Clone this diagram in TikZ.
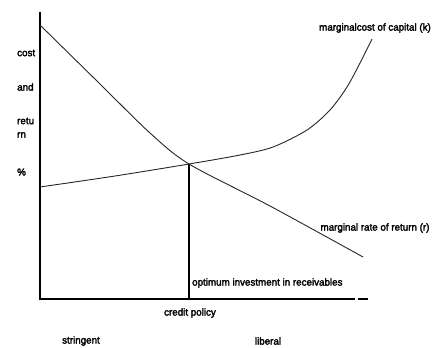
\documentclass[tikz,border=0pt]{standalone}
\usepackage{fontspec}
\newfontfamily\lblfont[FakeStretch=0.98,FakeBold=2.5]{Liberation Sans}
\begin{document}
\begin{tikzpicture}[x=1pt,y=-1pt,
  lbl/.style={font=\lblfont\fontsize{10}{10}\selectfont,inner sep=0pt},
  axis/.style={line width=1.4pt,black},
  curve/.style={line width=0.9pt,black!85}]
\useasboundingbox (0,0) rectangle (443,347);
% axes
\coordinate (O) at (40,299);
\coordinate (Ytop) at (40,12);
\coordinate (Xend) at (355,299);
\coordinate (Xs1) at (358,299);
\coordinate (Xs2) at (368,299);
\coordinate (E) at (189,164);
\coordinate (Ebase) at (189,299);
\draw[axis] (Ytop) -- (O) -- (Xend);
\draw[axis] (Xs1) -- (Xs2);
\draw[line width=1.1pt] (E) -- (Ebase);
% marginal rate of return
\draw[curve] plot[smooth,tension=0.5] coordinates {(40,25) (100,84) (150,133) (189,164) (270,206) (363,257)};
% marginal cost of capital
\draw[curve] plot[smooth,tension=0.5] coordinates {(40,187) (115,176) (189,164) (240,155) (273,147) (307,130) (330,110) (347,87) (360,63) (372,39)};
% labels
\node[lbl] (lk) at (375,28) {marginalcost of capital (k)};
\node[lbl] (lr) at (375,228) {marginal rate of return (r)};
\node[lbl,anchor=west] (lopt) at (192,283) {optimum investment in receivables};
\node[lbl] (lcp) at (190,313) {credit policy};
\node[lbl] (lstr) at (81,341) {stringent};
\node[lbl] (llib) at (268,341) {liberal};
\node[lbl,anchor=west] (l1) at (17,53) {cost};
\node[lbl,anchor=west] (l2) at (17,87) {and};
\node[lbl,anchor=west] (l3) at (17,121) {retu};
\node[lbl,anchor=west] (l4) at (17,135) {rn};
\node[lbl,anchor=west] (l5) at (17,172) {\%};
\end{tikzpicture}
\end{document}
